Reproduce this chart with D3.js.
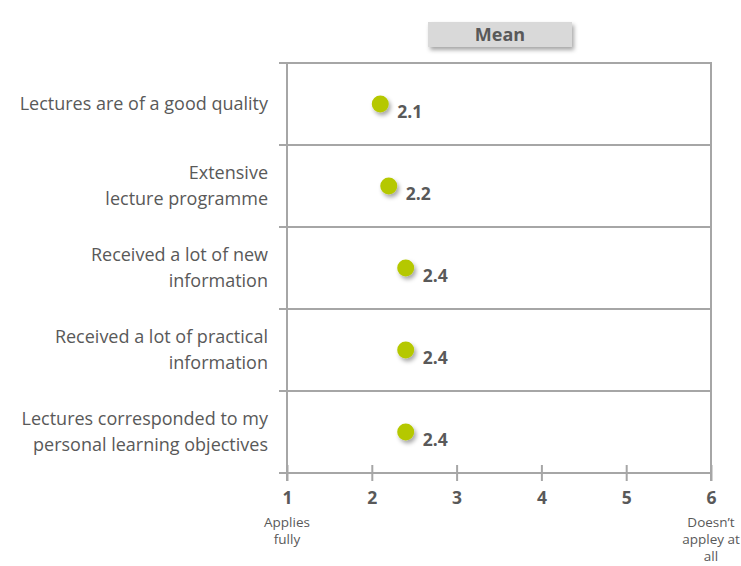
<!DOCTYPE html>
<html>
<head>
<meta charset="utf-8">
<script src="https://cdn.jsdelivr.net/npm/d3@7"></script>
<style>
  body { margin: 0; background: #fff; }
  svg { display: block; font-family: "Open Sans", sans-serif; }
</style>
</head>
<body>
<svg id="chart" width="741" height="566"></svg>
<script>
// Survey items (label lines) and their mean ratings
const categories = [
  ["Lectures are of a good quality"],
  ["Extensive", "lecture programme"],
  ["Received a lot of new", "information"],
  ["Received a lot of practical", "information"],
  ["Lectures corresponded to my", "personal learning objectives"]
];
const means = [2.1, 2.2, 2.4, 2.4, 2.4];
const tickValues = [1, 2, 3, 4, 5, 6];
const tickNotes = { 1: ["Applies", "fully"], 6: ["Doesn\u2019t", "appley at", "all"] };
const headerLabel = "Mean";

const svg = d3.select("#chart");
const plotLeft = 287, plotRight = 711, plotTop = 63, plotBottom = 473;
const gridColor = "#a6a6a6", textColor = "#595959", dotColor = "#b5c800";

const defs = svg.append("defs");
const sh = defs.append("filter").attr("id", "shadow")
  .attr("x", "-50%").attr("y", "-50%").attr("width", "200%").attr("height", "200%");
sh.append("feDropShadow").attr("dx", 2).attr("dy", 3).attr("stdDeviation", 2.2)
  .attr("flood-color", "#000").attr("flood-opacity", 0.35);

const x = d3.scaleLinear().domain([1, 6]).range([plotLeft, plotRight]);
const y = d3.scaleBand().domain(d3.range(categories.length)).range([plotTop, plotBottom]);

// Header box
const hb = svg.append("g");
hb.append("rect").attr("x", 428).attr("y", 22).attr("width", 144).attr("height", 25)
  .attr("fill", "#d9d9d9").attr("filter", "url(#shadow)");
hb.append("text").attr("x", 500).attr("y", 34.5).attr("dy", "0.35em")
  .attr("text-anchor", "middle").attr("font-weight", "bold").attr("font-size", 18)
  .attr("fill", textColor).text(headerLabel);

// Row separators (with short left stubs) and frame
const g = svg.append("g");
const lines = d3.range(categories.length + 1).map(i => i < categories.length ? y(i) : plotBottom);
g.selectAll("line.row").data(lines).join("line")
  .attr("x1", plotLeft - 8).attr("x2", plotRight)
  .attr("y1", d => d).attr("y2", d => d)
  .attr("stroke", gridColor).attr("stroke-width", 2);
g.append("line").attr("x1", plotLeft).attr("x2", plotLeft).attr("y1", plotTop - 1).attr("y2", plotBottom + 8)
  .attr("stroke", gridColor).attr("stroke-width", 2);
g.append("line").attr("x1", plotRight).attr("x2", plotRight).attr("y1", plotTop - 1).attr("y2", plotBottom + 8)
  .attr("stroke", gridColor).attr("stroke-width", 2);

// Bottom axis
const axis = svg.append("g").attr("transform", `translate(0,${plotBottom})`)
  .call(d3.axisBottom(x).tickValues(tickValues).tickSize(8).tickFormat(d3.format("d")));
axis.select(".domain").remove();
axis.selectAll(".tick line").attr("stroke", gridColor).attr("stroke-width", 2)
  .attr("y1", -8).attr("y2", 8);
axis.selectAll(".tick text").attr("y", 19).attr("font-size", 17.5).attr("font-weight", "bold")
  .attr("fill", textColor).attr("font-family", "\"Open Sans\", sans-serif");

// Notes under the scale ends
Object.entries(tickNotes).forEach(([v, ls]) => {
  svg.append("text").attr("x", x(+v)).attr("y", 527).attr("text-anchor", "middle")
    .attr("font-size", 13.5).attr("fill", textColor)
    .selectAll("tspan").data(ls).join("tspan")
    .attr("x", x(+v)).attr("dy", (d, i) => i ? 17 : 0).text(d => d);
});

// Category labels
const bw = y.bandwidth();
categories.forEach((ls, i) => {
  const cy = y(i) + bw / 2;
  svg.append("text").attr("text-anchor", "end").attr("font-size", 18).attr("fill", textColor)
    .selectAll("tspan").data(ls).join("tspan")
    .attr("x", 268)
    .attr("y", (d, j) => cy + (j - (ls.length - 1) / 2) * 26)
    .attr("dy", "0.35em").text(d => d);
});

// Mean markers and value labels
svg.append("g").selectAll("circle").data(means).join("circle")
  .attr("cx", d => x(d)).attr("cy", (d, i) => y(i) + bw / 2).attr("r", 8.5)
  .attr("fill", dotColor).attr("filter", "url(#shadow)");
svg.append("g").selectAll("text").data(means).join("text")
  .attr("x", d => x(d) + 17).attr("y", (d, i) => y(i) + bw / 2 + 8).attr("dy", "0.35em")
  .attr("font-size", 17.5).attr("font-weight", "bold").attr("fill", textColor)
  .text(d => d3.format(".1f")(d));
</script>
</body>
</html>
